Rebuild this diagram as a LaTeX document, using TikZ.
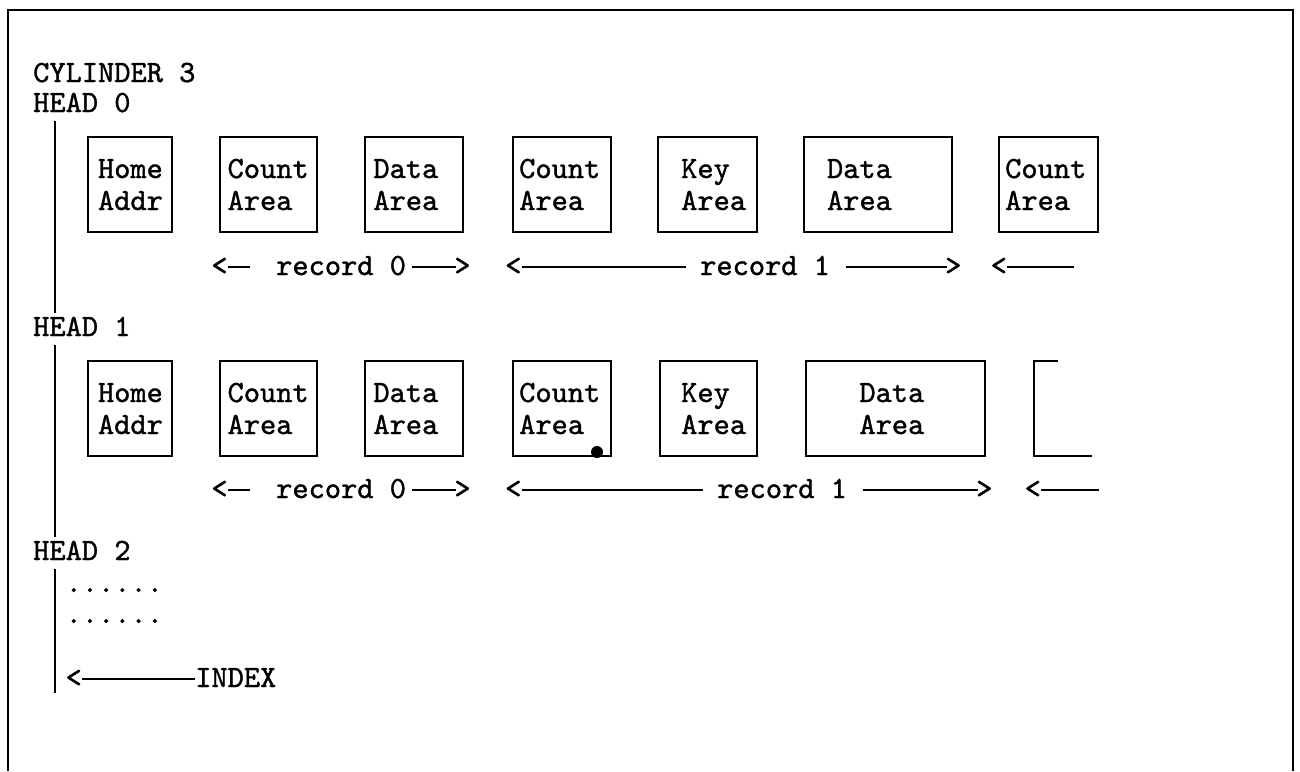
\documentclass[tikz,border=0pt]{standalone}
\usepackage{fontspec}
\newfontfamily\reffont{lmmono10-regular.otf}[FakeBold=1.2]
\begin{document}
\begin{tikzpicture}[x=1pt,y=-1pt,
  txt/.style={font=\fontsize{30.9pt}{31pt}\selectfont\reffont, inner sep=0pt, anchor=base west},
  areabox/.style={draw, line width=2pt, minimum height=95pt, inner sep=0pt},
  frame/.style={line width=2.2pt},
  vline/.style={line width=2pt},
  dim/.style={line width=1.5pt}]
\useasboundingbox (0,0) rectangle (1300,771);

% outer frame
\draw[frame] (8,771) -- (8,10) -- (1293,10) -- (1293,771);

% labels
\node[txt] (cyl) at (33,82) {CYLINDER 3};
\node[txt] (hd0) at (33,112) {HEAD 0};
\node[txt] (hd1) at (33,336) {HEAD 1};
\node[txt] (hd2) at (33,560) {HEAD 2};

% head vertical lines
\draw[vline] (55,121) -- (55,313);
\draw[vline] (55,345) -- (55,537);
\draw[vline] (55,569) -- (55,693);

% ---------- HEAD 0 boxes ----------
\node[areabox, minimum width=84pt] (a0home) at (130,184.5) {};
\node[areabox, minimum width=97pt] (a0cnt1) at (268.5,184.5) {};
\node[areabox, minimum width=98pt] (a0dat1) at (414,184.5) {};
\node[areabox, minimum width=98pt] (a0cnt2) at (562,184.5) {};
\node[areabox, minimum width=99pt] (a0key) at (707.5,184.5) {};
\node[areabox, minimum width=148pt] (a0dat2) at (878,184.5) {};
\node[areabox, minimum width=99pt] (a0cnt3) at (1048.5,184.5) {};

\node[txt] (t0a) at (97.8,178) {Home};
\node[txt] (t0b) at (97.8,210) {Addr};
\node[txt] (t0c) at (227.4,178) {Count};
\node[txt] (t0d) at (227.4,210) {Area};
\node[txt] (t0e) at (373.2,178) {Data};
\node[txt] (t0f) at (373.2,210) {Area};
\node[txt] (t0g) at (519,178) {Count};
\node[txt] (t0h) at (519,210) {Area};
\node[txt] (t0i) at (681,178) {Key};
\node[txt] (t0j) at (681,210) {Area};
\node[txt] (t0k) at (826.8,178) {Data};
\node[txt] (t0l) at (826.8,210) {Area};
\node[txt] (t0m) at (1005,178) {Count};
\node[txt] (t0n) at (1005,210) {Area};

% HEAD 0 record markers
\node[txt] (r0lt) at (211.2,275) {<};
\node[txt] (r0t) at (276,275) {record 0};
\node[txt] (r0gt) at (454.2,275) {>};
\draw[dim, shorten >=26pt] ([yshift=8pt]r0lt.base east) -- ([yshift=8pt]r0t.base west);
\draw[dim, shorten <=6pt, shorten >=-2pt] ([yshift=8pt]r0t.base east) -- ([yshift=8pt]r0gt.base west);

\node[txt] (s0lt) at (505,275) {<};
\node[txt] (s0t) at (700,275) {record 1};
\node[txt] (s0gt) at (945,275) {>};
\draw[dim, shorten >=14pt] ([yshift=8pt]s0lt.base east) -- ([yshift=8pt]s0t.base west);
\draw[dim, shorten <=16pt, shorten >=-2pt] ([yshift=8pt]s0t.base east) -- ([yshift=8pt]s0gt.base west);

\node[txt] (u0lt) at (990.5,275) {<};
\coordinate (u0end) at (1074,267);
\draw[dim] ([yshift=8pt]u0lt.base east) -- (u0end);

% ---------- HEAD 1 boxes ----------
\node[areabox, minimum width=84pt] (a1home) at (130,408.5) {};
\node[areabox, minimum width=97pt] (a1cnt1) at (268.5,408.5) {};
\node[areabox, minimum width=98pt] (a1dat1) at (414,408.5) {};
\node[areabox, minimum width=98pt] (a1cnt2) at (562,408.5) {};
\node[areabox, minimum width=97pt] (a1key) at (708.5,408.5) {};
\node[areabox, minimum width=179pt] (a1dat2) at (895.5,408.5) {};
\draw[line width=2pt] (1058,361) -- (1034,361) -- (1034,456) -- (1092,456);
\fill (597,452) circle (6pt);

\node[txt] (t1a) at (97.8,402) {Home};
\node[txt] (t1b) at (97.8,434) {Addr};
\node[txt] (t1c) at (227.4,402) {Count};
\node[txt] (t1d) at (227.4,434) {Area};
\node[txt] (t1e) at (373.2,402) {Data};
\node[txt] (t1f) at (373.2,434) {Area};
\node[txt] (t1g) at (519,402) {Count};
\node[txt] (t1h) at (519,434) {Area};
\node[txt] (t1i) at (681,402) {Key};
\node[txt] (t1j) at (681,434) {Area};
\node[txt] (t1k) at (859.2,402) {Data};
\node[txt] (t1l) at (859.2,434) {Area};

% HEAD 1 record markers
\node[txt] (r1lt) at (211.2,498) {<};
\node[txt] (r1t) at (276,498) {record 0};
\node[txt] (r1gt) at (454.2,498) {>};
\draw[dim, shorten >=26pt] ([yshift=8pt]r1lt.base east) -- ([yshift=8pt]r1t.base west);
\draw[dim, shorten <=6pt, shorten >=-2pt] ([yshift=8pt]r1t.base east) -- ([yshift=8pt]r1gt.base west);

\node[txt] (s1lt) at (505,498) {<};
\node[txt] (s1t) at (717,498) {record 1};
\node[txt] (s1gt) at (976,498) {>};
\draw[dim, shorten >=14pt] ([yshift=8pt]s1lt.base east) -- ([yshift=8pt]s1t.base west);
\draw[dim, shorten <=16pt, shorten >=-2pt] ([yshift=8pt]s1t.base east) -- ([yshift=8pt]s1gt.base west);

\node[txt] (u1lt) at (1024.5,498) {<};
\coordinate (u1end) at (1099,490);
\draw[dim] ([yshift=8pt]u1lt.base east) -- (u1end);

% ---------- HEAD 2 ----------
\node[txt] (dots1) at (65.4,592) {......};
\node[txt] (dots2) at (65.4,623) {......};
\node[txt] (ixlt) at (65.4,687) {<};
\node[txt] (index) at (195,687) {INDEX};
\draw[dim] ([yshift=8pt]ixlt.base east) -- ([yshift=8pt]index.base west);

\end{tikzpicture}
\end{document}
